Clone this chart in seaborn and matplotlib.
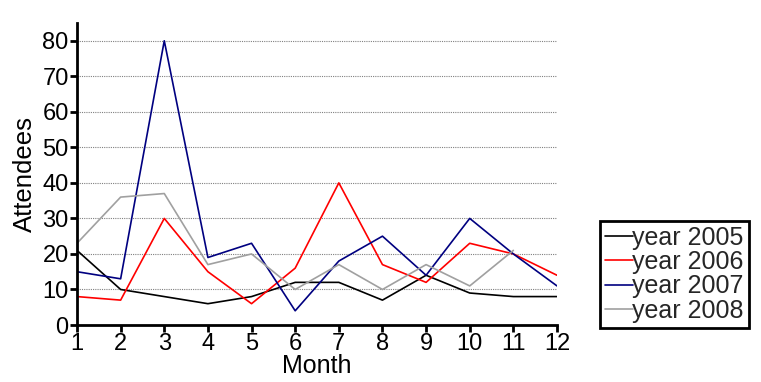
import numpy as np
import pandas as pd
import matplotlib
matplotlib.use("Agg")
import matplotlib.pyplot as plt
import seaborn as sns

months = list(range(1, 13))
y2005 = [21, 10, 8, 6, 8, 12, 12, 7, 14, 9, 8, 8]
y2006 = [8, 7, 30, 15, 6, 16, 40, 17, 12, 23, 20, 14]
y2007 = [15, 13, 80, 19, 23, 4, 18, 25, 14, 30, 20, 11]
y2008 = [23, 36, 37, 17, 20, 10, 17, 10, 17, 11, 21, np.nan]
labels = ["year 2005", "year 2006", "year 2007", "year 2008"]
colors = ["#000000", "#ff0000", "#000080", "#a0a0a0"]

sns.set_theme(style="white")
plt.rcParams['font.family'] = ['Liberation Sans', 'DejaVu Sans']

rows = []
for lab, vals in zip(labels, [y2005, y2006, y2007, y2008]):
    for m, v in zip(months, vals):
        rows.append({"Month": m, "Attendees": v, "series": lab})
df = pd.DataFrame(rows)

fig = plt.figure(figsize=(7.61, 3.82), dpi=100)
ax = fig.add_axes([77/761, 1-325/382, (557-77)/761, (325-23)/382])
sns.lineplot(data=df, x="Month", y="Attendees", hue="series", palette=colors,
             linewidth=1.2, ax=ax, legend=True)

ax.set_xlim(1, 12)
ax.set_ylim(0, 85)
ax.set_xticks(months)
ax.set_yticks(range(0, 81, 10))
ax.yaxis.grid(True, linestyle=(0, (1, 1)), color="#808080", linewidth=0.8)
ax.xaxis.grid(False)
for s in ["top", "right"]:
    ax.spines[s].set_visible(False)
for s in ["left", "bottom"]:
    ax.spines[s].set_color("black")
    ax.spines[s].set_linewidth(2)
ax.tick_params(axis="both", direction="out", length=5, width=2, color="black",
               labelsize=17, labelcolor="black", bottom=True, left=True, pad=1)
ax.set_xlabel("Month", fontsize=18, color="black", labelpad=-1)
ax.set_ylabel("Attendees", fontsize=18.5, color="black", labelpad=4)

handles, labs = ax.get_legend_handles_labels()
ax.legend_.remove()
leg = fig.legend(handles, labs, loc="lower left",
                 bbox_to_anchor=(600/761, 1-328/382), bbox_transform=fig.transFigure,
                 fontsize=18, frameon=True, fancybox=False, framealpha=1,
                 edgecolor="black", borderpad=0.2, handlelength=1.1,
                 handletextpad=0.0, labelspacing=0.02, borderaxespad=0)
leg.get_frame().set_linewidth(2)

fig.savefig("out.png", dpi=100)
